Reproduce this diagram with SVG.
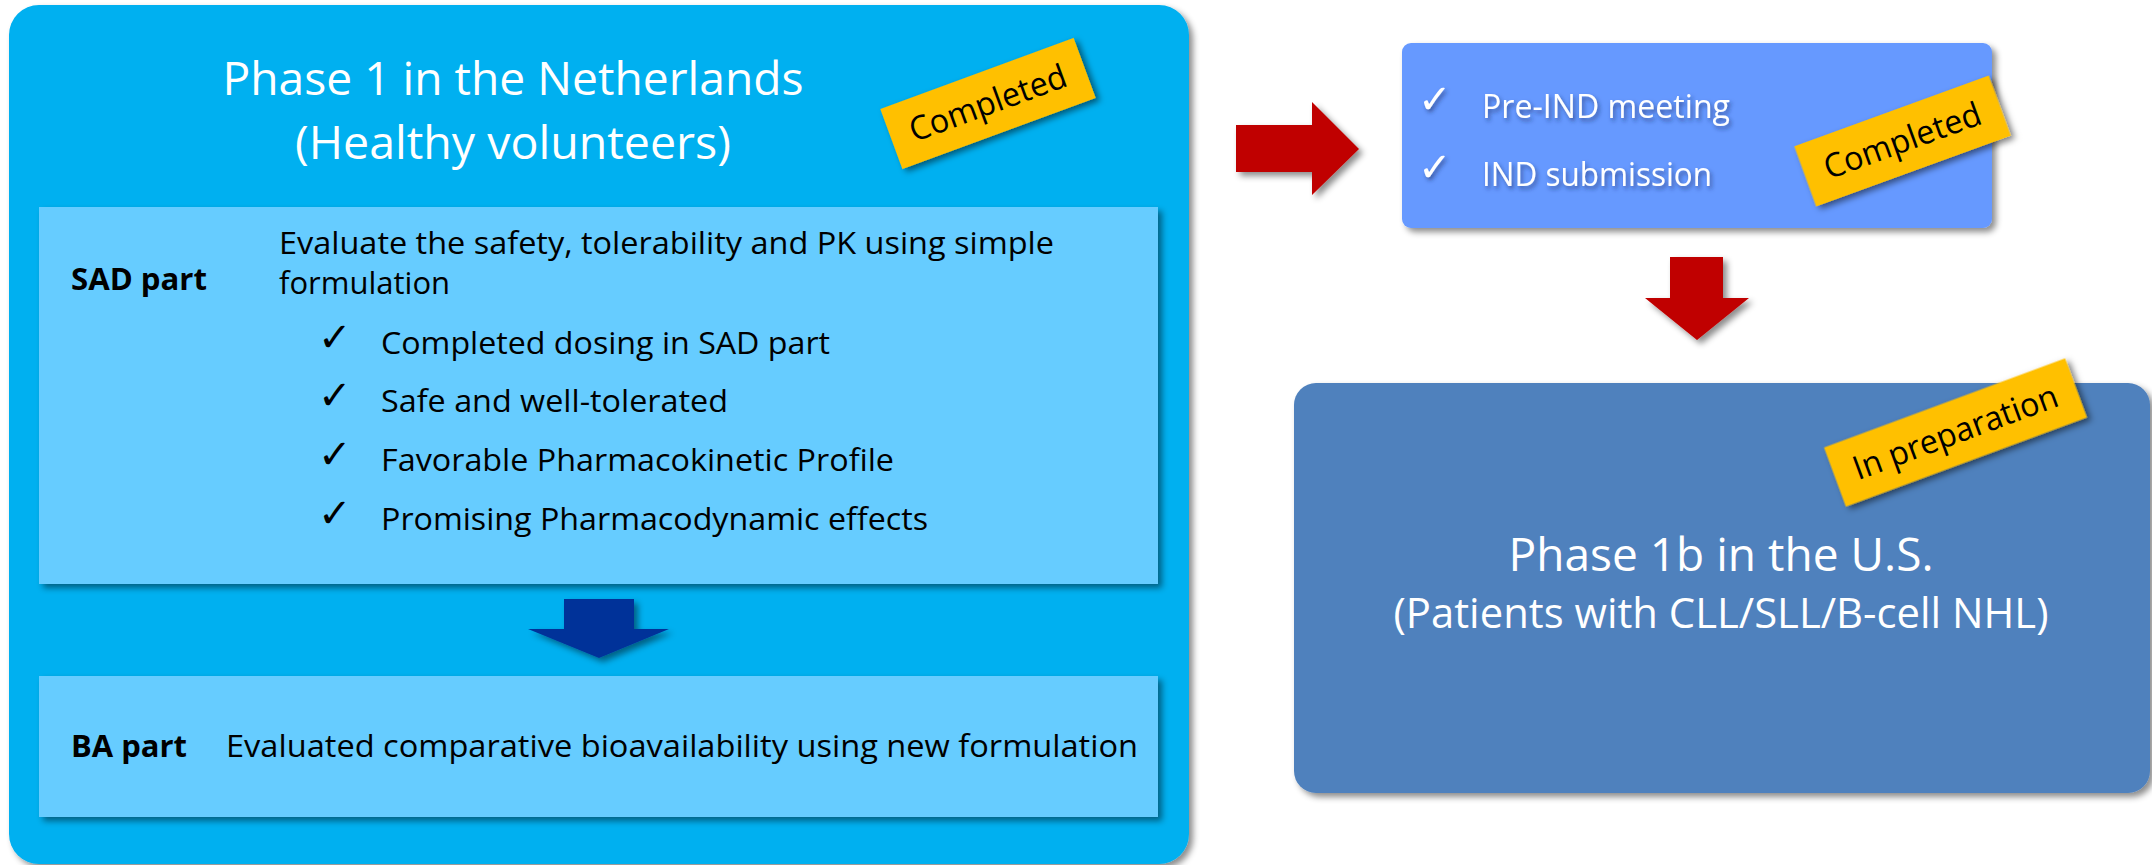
<svg xmlns="http://www.w3.org/2000/svg" width="2152" height="865" viewBox="0 0 2152 865">
<defs>
<filter id="sh" x="-10%" y="-10%" width="130%" height="130%"><feDropShadow dx="4" dy="4" stdDeviation="3" flood-color="#000" flood-opacity="0.45"/></filter>
<filter id="shs" x="-10%" y="-20%" width="130%" height="150%"><feDropShadow dx="3" dy="4" stdDeviation="3" flood-color="#000" flood-opacity="0.5"/></filter>
<filter id="tsh" x="-10%" y="-30%" width="130%" height="170%"><feDropShadow dx="2" dy="3" stdDeviation="2" flood-color="#1a2f66" flood-opacity="0.6"/></filter>
<style>
text{font-family:"Open Sans","Noto Sans",sans-serif;}
.title{font-size:46px;fill:#fff;text-anchor:middle;}
.body{font-size:31px;fill:#000;}
.bold{font-size:31px;font-weight:bold;fill:#000;}
.chk{font-family:"DejaVu Sans",sans-serif;font-size:40px;}
.wt{font-size:32px;fill:#fff;}
.tag{fill:#FFC000;}
.tagt{font-size:33px;fill:#000;text-anchor:middle;}
.inner{fill:#66CCFF;}
.red{fill:#C00000;}
</style>
</defs>

<g id="phase1">
<rect x="9" y="5" width="1180" height="859" rx="30" fill="#00B0F0" filter="url(#sh)"/>
<text class="title" x="513" y="95" textLength="581" lengthAdjust="spacingAndGlyphs">Phase 1 in the Netherlands</text>
<text class="title" x="513" y="159" textLength="436" lengthAdjust="spacingAndGlyphs">(Healthy volunteers)</text>
</g>

<g id="tag-completed-1" transform="translate(988,103.5) rotate(-20.2)">
<rect class="tag" x="-103" y="-32" width="206" height="64" filter="url(#shs)"/>
<text class="tagt" x="0" y="11" textLength="165" lengthAdjust="spacingAndGlyphs">Completed</text>
</g>

<g id="sad">
<rect class="inner" x="39" y="207" width="1119" height="377" filter="url(#sh)"/>
<text class="bold" x="71" y="290" textLength="136" lengthAdjust="spacingAndGlyphs">SAD part</text>
<text class="body" x="279" y="254" textLength="775" lengthAdjust="spacingAndGlyphs">Evaluate the safety, tolerability and PK using simple</text>
<text class="body" x="279" y="294">formulation</text>
<text class="chk" x="318" y="351">✓</text>
<text class="body" x="381" y="354" textLength="449" lengthAdjust="spacingAndGlyphs">Completed dosing in SAD part</text>
<text class="chk" x="318" y="409">✓</text>
<text class="body" x="381" y="412" textLength="347" lengthAdjust="spacingAndGlyphs">Safe and well-tolerated</text>
<text class="chk" x="318" y="468">✓</text>
<text class="body" x="381" y="471" textLength="513" lengthAdjust="spacingAndGlyphs">Favorable Pharmacokinetic Profile</text>
<text class="chk" x="318" y="527">✓</text>
<text class="body" x="381" y="530" textLength="547" lengthAdjust="spacingAndGlyphs">Promising Pharmacodynamic effects</text>
</g>

<g id="ba">
<rect class="inner" x="39" y="676" width="1119" height="141" filter="url(#sh)"/>
<text class="bold" x="71" y="757" textLength="116" lengthAdjust="spacingAndGlyphs">BA part</text>
<text class="body" x="226" y="757" textLength="912" lengthAdjust="spacingAndGlyphs">Evaluated comparative bioavailability using new formulation</text>
</g>

<g id="ind">
<rect x="1402" y="43" width="590" height="185" rx="9" fill="#6699FF" filter="url(#sh)"/>
<g filter="url(#tsh)">
<text class="chk" x="1418" y="113" fill="#fff">✓</text>
<text class="wt" x="1482" y="118" textLength="248" lengthAdjust="spacingAndGlyphs">Pre-IND meeting</text>
<text class="chk" x="1418" y="181" fill="#fff">✓</text>
<text class="wt" x="1482" y="186" textLength="230" lengthAdjust="spacingAndGlyphs">IND submission</text>
</g>
</g>

<g id="tag-completed-2" transform="translate(1902.5,141) rotate(-20)">
<rect class="tag" x="-103.5" y="-32" width="207" height="64" filter="url(#shs)"/>
<text class="tagt" x="0" y="11" textLength="165" lengthAdjust="spacingAndGlyphs">Completed</text>
</g>

<g id="phase1b">
<rect x="1294" y="383" width="856" height="410" rx="22" fill="#4F81BD" filter="url(#sh)"/>
<text class="title" x="1721" y="571" textLength="425" lengthAdjust="spacingAndGlyphs">Phase 1b in the U.S.</text>
<text class="title" x="1721" y="628" style="font-size:42px" textLength="655" lengthAdjust="spacingAndGlyphs">(Patients with CLL/SLL/B-cell NHL)</text>
</g>

<g id="tag-preparation" transform="translate(1955.5,432.5) rotate(-20.3)">
<rect class="tag" x="-128.5" y="-31.5" width="257" height="63" filter="url(#shs)"/>
<text class="tagt" x="0" y="11" textLength="216" lengthAdjust="spacingAndGlyphs">In preparation</text>
</g>

<g id="connectors">
<polygon points="564,599 634,599 634,629 669,629 599,658 528,629 564,629" fill="#003399" filter="url(#sh)"/>
<polygon class="red" points="1236,125 1312,125 1312,102 1359,149 1312,195 1312,172 1236,172" filter="url(#sh)"/>
<polygon class="red" points="1670,257 1723,257 1723,298 1749,298 1697,340 1645,298 1670,298" filter="url(#sh)"/>
</g>
</svg>
